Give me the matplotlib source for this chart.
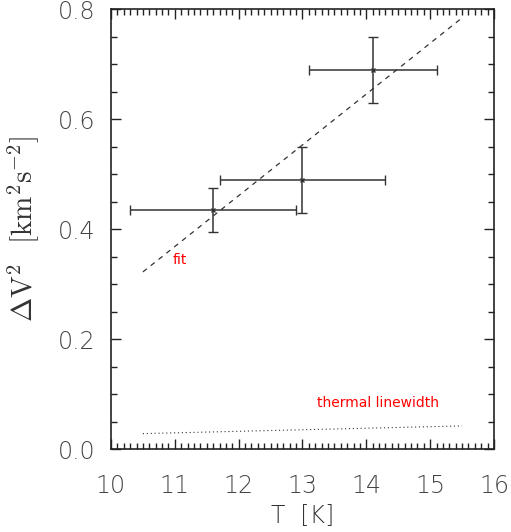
import numpy as np
import matplotlib.pyplot as plt
from matplotlib.ticker import MultipleLocator

# measured points
T = [11.6, 13.0, 14.1]
T_err = [1.3, 1.29, 1.0]
dv2 = [0.435, 0.490, 0.690]
dv2_err = [0.040, 0.060, 0.060]

# fit line endpoints
fit_T = [10.5, 15.5]
fit_dv2 = [0.322, 0.784]

# thermal linewidth endpoints
therm_T = [10.5, 15.5]
therm_dv2 = [0.028, 0.042]

plt.rcParams['mathtext.fontset'] = 'cm'

fig = plt.figure(figsize=(5.11, 5.32), dpi=100)
ax = fig.add_axes([0.2172, 0.156, 0.7495, 0.827])

ax.errorbar(T, dv2, xerr=T_err, yerr=dv2_err, fmt='x', color='#333333',
            ms=3, mew=1.0, elinewidth=1.1, capsize=3.5, capthick=1.1)
ax.plot(fit_T, fit_dv2, color='#333333', lw=0.9, dashes=(4, 4))
ax.plot(therm_T, therm_dv2, color='#333333', lw=0.8, dashes=(1, 2.5))

ax.text(11.08, 0.344, 'fit', color='red', fontsize=10, ha='center', va='center')
ax.text(14.19, 0.084, 'thermal linewidth', color='red', fontsize=10,
        ha='center', va='center')

ax.set_xlim(10, 16)
ax.set_ylim(0, 0.8)
ax.xaxis.set_major_locator(MultipleLocator(1))
ax.xaxis.set_minor_locator(MultipleLocator(0.1))
ax.yaxis.set_major_locator(MultipleLocator(0.2))
ax.yaxis.set_minor_locator(MultipleLocator(0.05))
ax.yaxis.set_major_formatter(plt.FuncFormatter(lambda v, p: '%.1f' % v))
ax.tick_params(which='both', direction='in', top=True, right=True,
               color='#222222', width=1)
ax.tick_params(which='major', length=7, labelsize=17, labelcolor='#444444')
ax.tick_params(which='minor', length=4)
ax.tick_params(axis='y', which='major', pad=11)
ax.tick_params(axis='x', which='major', pad=18)
for lab in ax.get_xticklabels() + ax.get_yticklabels():
    lab.set_fontweight('light')
for s in ax.spines.values():
    s.set_color('#222222')
    s.set_linewidth(1.2)

ax.set_xlabel('T  [K]', fontsize=17, color='#333333', labelpad=4,
              fontweight='light')
ax.set_ylabel(r'$\Delta\mathrm{V}^2$  $[\mathrm{km}^2\mathrm{s}^{-2}]$',
              fontsize=21, color='#333333', labelpad=12)

fig.savefig('out.png', dpi=100)
